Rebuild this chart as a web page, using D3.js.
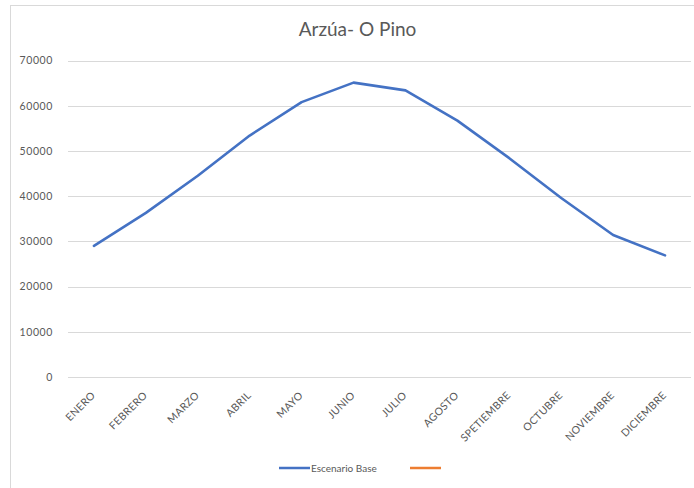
<!DOCTYPE html>
<html>
<head>
<meta charset="utf-8">
<script src="https://cdn.jsdelivr.net/npm/d3@7/dist/d3.min.js"></script>
<style>
  html, body { margin: 0; padding: 0; background: #fff; }
  svg { display: block; font-family: Lato, "Open Sans", sans-serif; }
</style>
</head>
<body>
<svg id="chart" width="694" height="488"></svg>
<script>
const title = "Arzúa- O Pino";
const months = ["ENERO","FEBRERO","MARZO","ABRIL","MAYO","JUNIO","JULIO","AGOSTO","SPETIEMBRE","OCTUBRE","NOVIEMBRE","DICIEMBRE"];
const escenarioBase = [29000, 36300, 44500, 53400, 60800, 65100, 63400, 56700, 48400, 39600, 31400, 26900];
const yTicks = [0, 10000, 20000, 30000, 40000, 50000, 60000, 70000];
const seriesNames = ["Escenario Base", ""];
const seriesColors = ["#4472C4", "#ED7D31"];

const svg = d3.select("#chart");
const W = 694, H = 488;
const m = { left: 68, right: 3, top: 60.5, bottom: 111 };

// chart area border
svg.append("rect").attr("x", 10.5).attr("y", 5.5).attr("width", 700).attr("height", 500)
  .attr("fill", "none").attr("stroke", "#d9d9d9").attr("stroke-width", 1);

const x = d3.scaleBand().domain(months).range([m.left, W - m.right]);
const y = d3.scaleLinear().domain([0, 70000]).range([H - m.bottom, m.top]);

// gridlines
svg.append("g").selectAll("line").data(yTicks).join("line")
  .attr("x1", m.left).attr("x2", W - m.right)
  .attr("y1", d => Math.round(y(d)) + 0.5).attr("y2", d => Math.round(y(d)) + 0.5)
  .attr("stroke", "#d9d9d9").attr("stroke-width", 1);

// y axis labels
const yAxis = d3.axisLeft(y).tickValues(yTicks).tickSize(0).tickPadding(15).tickFormat(d3.format("d"));
const gy = svg.append("g").attr("transform", `translate(${m.left},0)`).call(yAxis);
gy.select(".domain").remove();
gy.selectAll("text").attr("fill", "#595959").attr("font-size", 10.5)
  .attr("letter-spacing", 0.6).attr("font-family", "Lato, sans-serif");

// x axis labels
const xAxis = d3.axisBottom(x).tickSize(0).tickPadding(0);
const gx = svg.append("g").attr("transform", `translate(0,${H - m.bottom})`).call(xAxis);
gx.select(".domain").remove();
gx.selectAll("text")
  .attr("fill", "#595959").attr("font-size", 10.5).attr("letter-spacing", 0.3)
  .attr("font-family", "Lato, sans-serif")
  .attr("text-anchor", "end").attr("dy", null).attr("y", 0)
  .attr("transform", "translate(2,19) rotate(-45)");

// line
const line = d3.line().x((d, i) => x(months[i]) + x.bandwidth() / 2).y(d => y(d));
svg.append("path").datum(escenarioBase).attr("d", line)
  .attr("fill", "none").attr("stroke", seriesColors[0]).attr("stroke-width", 2.6)
  .attr("stroke-linejoin", "round").attr("stroke-linecap", "round");

// title
svg.append("text").attr("x", 357.5).attr("y", 36).attr("text-anchor", "middle")
  .attr("fill", "#595959").attr("font-size", 19).text(title);

// legend
const lg = svg.append("g").attr("transform", "translate(279,468)");
lg.append("line").attr("x1", 0).attr("x2", 31).attr("y1", 0).attr("y2", 0)
  .attr("stroke", seriesColors[0]).attr("stroke-width", 2.5);
lg.append("text").attr("x", 32).attr("y", 3.5).attr("fill", "#595959").attr("font-size", 10).text(seriesNames[0]);
lg.append("line").attr("x1", 131).attr("x2", 162).attr("y1", 0).attr("y2", 0)
  .attr("stroke", seriesColors[1]).attr("stroke-width", 2.5);
</script>
</body>
</html>
